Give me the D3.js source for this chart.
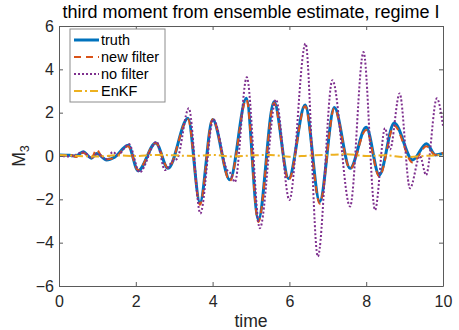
<!DOCTYPE html>
<head>
<meta charset="utf-8">
<style>
  body { margin: 0; background: #fff; }
  svg { display: block; font-family: "Liberation Sans", Arial, Helvetica, sans-serif; }
  .axis text { font-size: 16px; fill: #262626; }
  .axis path, .axis line { stroke: #5a5a5a; }
</style>
</head>
<body>
<script src="https://cdn.jsdelivr.net/npm/d3@7"></script>
<script>

// values (time, M3)
var truthT = [0, 0.28, 0.44, 0.63, 0.84, 0.98, 1.24, 1.45, 1.80, 2.06, 2.52, 2.84, 3.36, 3.67, 4.00, 4.45, 4.88, 5.19, 5.60, 5.98, 6.41, 6.79, 7.17, 7.58, 8.00, 8.34, 8.73, 9.21, 9.57, 9.80, 10];
var truthV = [0.05, 0.03, 0.0, 0.2, -0.1, 0.12, -0.18, -0.05, 0.5, -0.68, 0.6, -0.57, 1.74, -2.15, 1.68, -1.1, 2.66, -2.95, 2.5, -1.05, 2.35, -2.1, 2.24, -0.57, 1.33, -0.88, 1.52, -0.18, 0.57, 0.05, 0.12];

var newT = [0, 0.3, 0.45, 0.63, 0.84, 0.98, 1.1, 1.24, 1.45, 1.80, 2.06, 2.52, 2.84, 3.36, 3.67, 4.00, 4.45, 4.88, 5.19, 5.60, 5.98, 6.41, 6.79, 7.17, 7.58, 8.00, 8.34, 8.73, 9.21, 9.57, 9.80, 10];
var newV = [0.0, 0.05, -0.05, 0.15, -0.1, 0.3, 0.0, -0.15, -0.08, 0.45, -0.65, 0.6, -0.55, 1.7, -2.25, 1.7, -1.15, 2.6, -3.05, 2.45, -1.12, 2.3, -2.2, 2.2, -0.6, 1.2, -0.95, 1.4, -0.3, 0.45, 0.05, 0.15];

var noT = [0, 0.28, 0.64, 0.85, 1.01, 1.22, 1.40, 1.53, 1.82, 2.10, 2.54, 2.76, 2.95, 3.08, 3.38, 3.68, 4.02, 4.38, 4.46, 4.58, 4.89, 5.23, 5.65, 6.00, 6.42, 6.74, 7.12, 7.58, 7.93, 8.23, 8.49, 8.62, 8.87, 9.14, 9.40, 9.56, 9.84, 10];
var noV = [0.0, -0.02, 0.18, -0.08, 0.1, -0.15, 0.18, 0.05, 0.55, -0.75, 0.66, -0.65, -0.25, -0.12, 2.2, -2.65, 1.7, -0.65, -0.78, -1.2, 3.63, -3.33, 2.6, -2.03, 5.19, -4.64, 3.5, -2.33, 4.8, -2.49, 1.28, 0.3, 2.89, -1.49, 0.0, -0.88, 2.66, 1.4];

var enkfT = [0, 0.5, 1, 1.5, 2, 2.5, 3, 3.5, 4, 4.5, 5, 5.5, 6, 6.5, 7, 7.5, 8, 8.5, 9, 9.5, 10];
var enkfV = [0.05, 0.0, -0.02, 0.03, 0.0, 0.05, 0.03, 0.0, 0.05, -0.02, 0.02, 0.05, -0.03, 0.02, 0.05, 0.08, 0.0, 0.03, -0.05, 0.0, 0.05];

var xTicks = [0, 2, 4, 6, 8, 10];
var yTicks = [-6, -4, -2, 0, 2, 4, 6];

var series = [
  {name: "truth",      t: truthT, v: truthV, color: "#0072BD", width: 3,   dash: null},
  {name: "new filter", t: newT,   v: newV,   color: "#D95319", width: 2,   dash: "7,5"},
  {name: "no filter",  t: noT,    v: noV,    color: "#7E2F8E", width: 2,   dash: "2,2"},
  {name: "EnKF",       t: enkfT,  v: enkfV,  color: "#EDB120", width: 2,   dash: "8,3,2,3"}
];

var width = 459, height = 330,
    margin = {top: 26, right: 16, bottom: 44, left: 59};

var x = d3.scaleLinear().domain([0, 10]).range([margin.left, width - margin.right]);
var y = d3.scaleLinear().domain([-6, 6]).range([height - margin.bottom, margin.top]);

var svg = d3.select("body").append("svg")
    .attr("width", width)
    .attr("height", height);

svg.append("defs").append("clipPath").attr("id", "clip")
  .append("rect")
    .attr("x", margin.left).attr("y", margin.top)
    .attr("width", x(10) - x(0)).attr("height", y(-6) - y(6));

var line = d3.line()
    .curve(d3.curveMonotoneX)
    .x(function(d) { return x(d[0]); })
    .y(function(d) { return y(d[1]); });

svg.append("g").attr("clip-path", "url(#clip)")
  .selectAll("path")
  .data(series)
  .enter().append("path")
    .attr("fill", "none")
    .attr("stroke", function(d) { return d.color; })
    .attr("stroke-width", function(d) { return d.width; })
    .attr("stroke-dasharray", function(d) { return d.dash; })
    .attr("stroke-linejoin", "round")
    .attr("d", function(d) { return line(d3.zip(d.t, d.v)); });

// box axes, ticks pointing inward
svg.append("g").attr("class", "axis")
    .attr("transform", "translate(0," + y(-6) + ")")
    .call(d3.axisBottom(x).tickValues(xTicks).tickSizeInner(-4).tickSizeOuter(0).tickPadding(10));
svg.append("g").attr("class", "axis")
    .attr("transform", "translate(0," + y(6) + ")")
    .call(d3.axisTop(x).tickValues(xTicks).tickSizeInner(-4).tickSizeOuter(0).tickFormat(""));
svg.append("g").attr("class", "axis")
    .attr("transform", "translate(" + x(0) + ",0)")
    .call(d3.axisLeft(y).tickValues(yTicks).tickSizeInner(-4).tickSizeOuter(0).tickPadding(5));
svg.append("g").attr("class", "axis")
    .attr("transform", "translate(" + x(10) + ",0)")
    .call(d3.axisRight(y).tickValues(yTicks).tickSizeInner(-4).tickSizeOuter(0).tickFormat(""));

svg.selectAll(".axis text").attr("font-family", null);

// title and labels
svg.append("text")
    .attr("x", (x(0) + x(10)) / 2)
    .attr("y", 18)
    .attr("text-anchor", "middle")
    .attr("font-size", 18)
    .attr("fill", "#000")
    .text("third moment from ensemble estimate, regime I");

svg.append("text")
    .attr("x", (x(0) + x(10)) / 2)
    .attr("y", 327)
    .attr("text-anchor", "middle")
    .attr("font-size", 17.6)
    .attr("fill", "#262626")
    .text("time");

var yl = svg.append("text")
    .attr("transform", "translate(25," + y(0) + ")rotate(-90)")
    .attr("text-anchor", "middle")
    .attr("font-size", 17.6)
    .attr("fill", "#262626");
yl.append("tspan").text("M");
yl.append("tspan").attr("font-size", 12.5).attr("dy", 4).text("3");

// legend
var lg = svg.append("g").attr("transform", "translate(70,29)");
lg.append("rect")
    .attr("width", 95).attr("height", 73)
    .attr("fill", "#fff")
    .attr("stroke", "#8c8c8c")
    .attr("stroke-width", 1);

var item = lg.selectAll(".item")
  .data(series)
  .enter().append("g")
    .attr("transform", function(d, i) { return "translate(0," + (11 + i * 17) + ")"; });

item.append("line")
    .attr("x1", 4).attr("x2", 29)
    .attr("stroke", function(d) { return d.color; })
    .attr("stroke-width", function(d) { return d.width; })
    .attr("stroke-dasharray", function(d) { return d.dash; });

item.append("text")
    .attr("x", 31)
    .attr("dy", "0.35em")
    .attr("font-size", 14.5)
    .attr("fill", "#000")
    .text(function(d) { return d.name; });

</script>
</body>
